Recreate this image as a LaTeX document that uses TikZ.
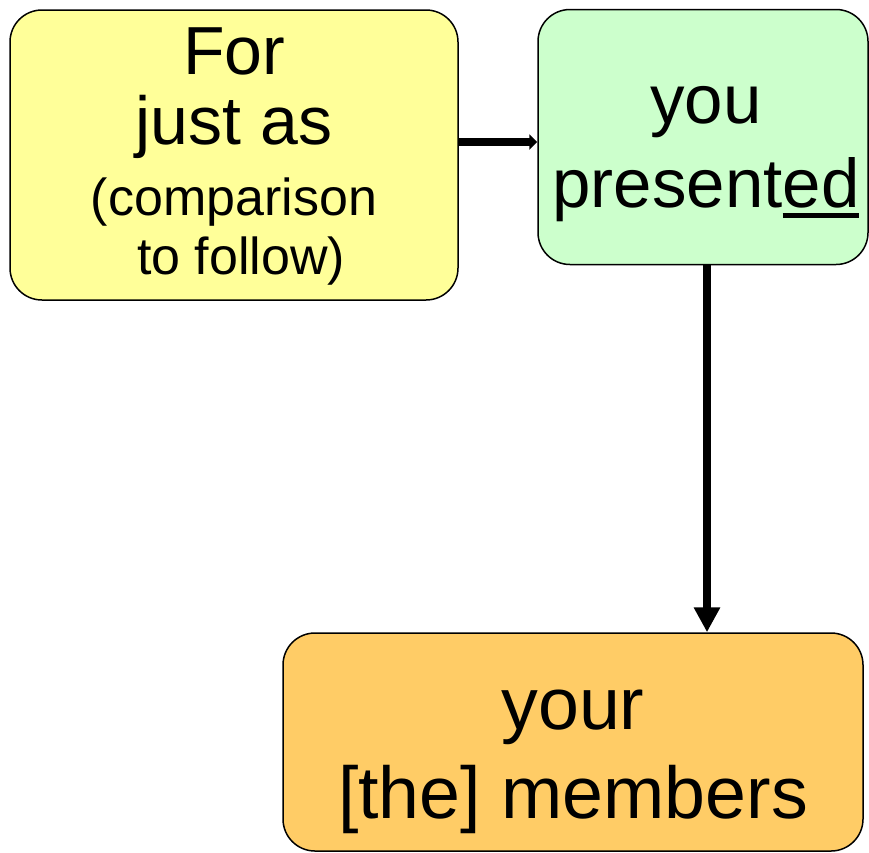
\documentclass[tikz,border=0pt]{standalone}
\usepackage{fontspec}
\setmainfont{Liberation Sans}
\usepackage{tikz}
\usetikzlibrary{arrows.meta,positioning}
\definecolor{lightyellow}{RGB}{255, 255, 153}
\definecolor{lightgreen}{RGB}{204, 255, 204}
\definecolor{lightorange}{RGB}{255, 204, 102}
\tikzstyle{box} = [rectangle, rounded corners=32pt, draw=black, line width=1.5pt]
\tikzstyle{words} = [text=black, align=center, inner sep=0pt]
\tikzstyle{tedge} = [draw, line width=7.5pt]
\newcommand{\smalltext}{\fontsize{52}{59}\selectfont}
\newcommand{\thickul}[1]{\setbox0\hbox{#1}\rlap{\rule[-11pt]{\wd0}{5pt}}\box0}

\begin{document}
\begin{tikzpicture}[x=1pt, y=-1pt]
\useasboundingbox (0,0) rectangle (869,852);

% boxes =============================
\node[box, fill=lightyellow, minimum width=448pt, minimum height=290pt] (comp) at (234,155) {};
\node[box, fill=lightgreen, minimum width=330pt, minimum height=255pt] (verb) at (703,137) {};
\node[box, fill=lightorange, minimum width=580pt, minimum height=218pt] (members) at (573,742) {};

% texts
\node[words, font=\fontsize{68}{70}\selectfont] (comp-text) at (234,156)
  {For\ \\ just as\\[1pt] {\smalltext (comparison}\\[-11pt] {\smalltext \ to follow)}};
\node[words, font=\fontsize{69}{84}\selectfont] (verb-text) at (706,154)
  {you\ \\ present\thickul{ed}};
\node[words, font=\fontsize{73.5}{89}\selectfont] (members-text) at (573,762)
  {your\ \\ {[}the{]} members};

% edges
\coordinate (c1) at (0,142);
\coordinate (c2) at (707,0);
\path[tedge, -{Triangle[width=15pt,length=8pt]}] (comp.east |- c1) -- (verb.west |- c1);
\path[tedge, -{Triangle[width=25pt,length=25pt]}] (verb.south -| c2) -- (members.north -| c2);

\end{tikzpicture}
\end{document}
